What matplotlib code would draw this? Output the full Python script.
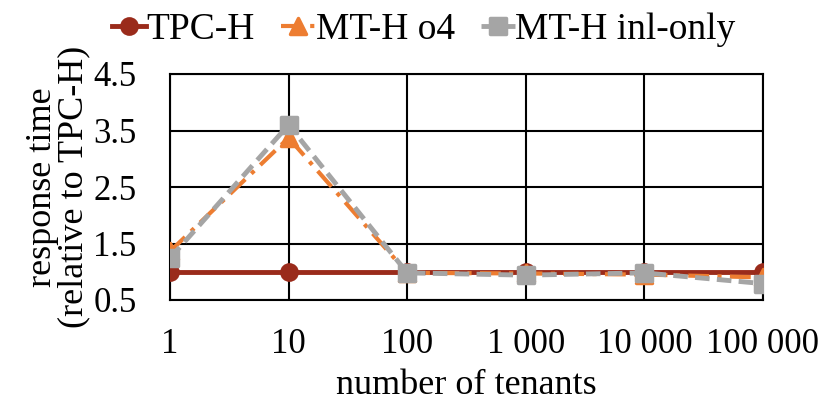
import matplotlib
matplotlib.use("Agg")
import matplotlib.pyplot as plt
from matplotlib.markers import MarkerStyle

categories = ["1", "10", "100", "1 000", "10 000", "100 000"]
tpch = [1.0, 1.0, 1.0, 1.0, 1.0, 1.0]
mth_o4 = [1.36, 3.37, 0.98, 0.97, 0.95, 0.9]
mth_inl = [1.24, 3.6, 0.98, 0.94, 0.98, 0.79]
yticks = [0.5, 1.5, 2.5, 3.5, 4.5]

plt.rcParams['font.family'] = ['Liberation Serif', 'DejaVu Serif']
fig = plt.figure(figsize=(8.31, 4.16), dpi=100)
ax = fig.add_axes([170/831, 1-300/416, (763-170)/831, (300-74)/416])

x = list(range(len(categories)))
ax.plot(x, tpch, color='#9A2B1B', lw=3.5, marker=MarkerStyle('o', joinstyle='round'),
        ms=12, mew=1.5, label='TPC-H', zorder=3)
ax.plot(x, mth_o4, color='#ED7D31', lw=3, ls=(0, (5, 2, 1, 2)),
        marker=MarkerStyle('^', joinstyle='round'), ms=12, mew=2.5, label='MT-H o4', zorder=4)
ax.plot(x, mth_inl, color='#A5A5A5', lw=3.5, ls=(0, (3, 1.5)),
        marker=MarkerStyle('s', joinstyle='round'), ms=11, mew=2.5, label='MT-H inl-only', zorder=5)

ax.set_xlim(0, len(categories)-1)
ax.set_ylim(0.5, 4.5)
ax.set_yticks(yticks)
ax.set_yticklabels([f"{v:.1f}" for v in yticks])
ax.set_xticks(x)
ax.set_xticklabels(categories)
ax.tick_params(length=0, labelsize=25)
ax.tick_params(axis='y', pad=24)
ax.tick_params(axis='x', pad=20)
ax.grid(True, color='black', lw=1.5, zorder=0)
ax.set_axisbelow(True)
for s in ax.spines.values():
    s.set_color('black')
    s.set_linewidth(1.5)

ax.set_xlabel('number of tenants', fontsize=26, labelpad=6)
ax.set_ylabel('response time\n(relative to TPC-H)', fontsize=26, linespacing=0.95, labelpad=2)

leg = fig.legend(loc='upper center', bbox_to_anchor=(0.51, 1.05), ncol=3, frameon=False,
                 fontsize=27, handlelength=0.9, handletextpad=0.02, columnspacing=0.7)

fig.savefig('out.png', dpi=100)
